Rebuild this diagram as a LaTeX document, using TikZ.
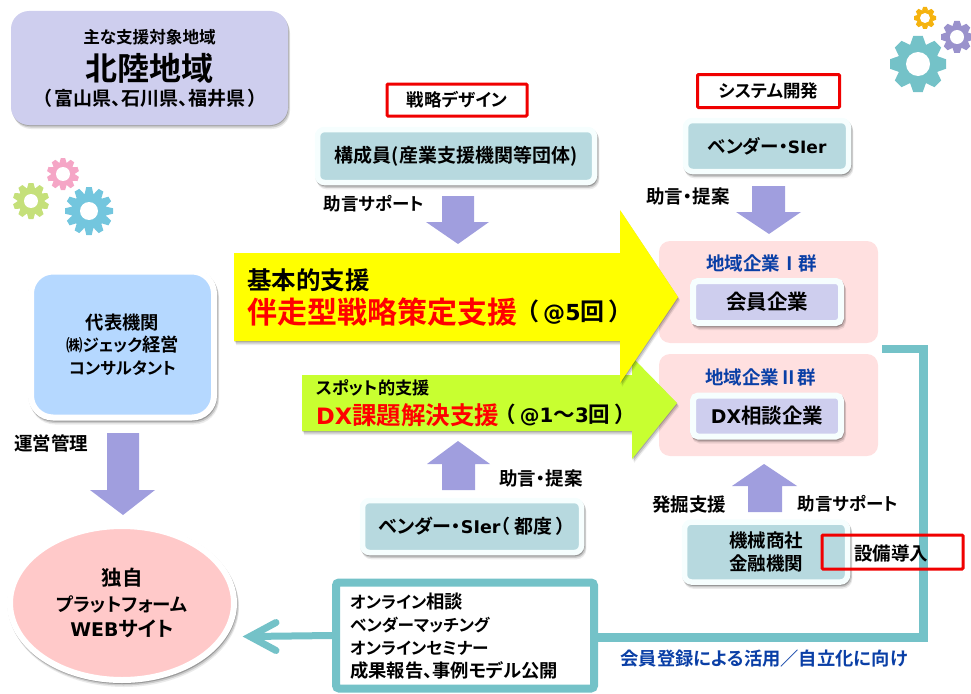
\documentclass[tikz,border=0pt]{standalone}
\usepackage{fontspec}
\setmainfont{Noto Sans CJK JP}[BoldFont={Noto Sans CJK JP Bold},RawFeature={+palt}]
\newfontfamily\lat{DejaVu Sans}[BoldFont={DejaVu Sans Bold},Scale=0.92]
\usetikzlibrary{shapes.geometric,shadows}
\definecolor{lav}{HTML}{CECEEE}
\definecolor{tealbox}{HTML}{B7D9DF}
\definecolor{rim}{HTML}{F6FEFE}
\definecolor{arr}{HTML}{A09EDE}
\definecolor{teal}{HTML}{74C2C8}
\definecolor{pinkbox}{HTML}{FFE0E0}
\definecolor{blueT}{HTML}{0A3FA6}
\definecolor{lime}{HTML}{C8FF30}
\definecolor{yelA}{HTML}{FFFF00}
\definecolor{redT}{HTML}{FF0000}
\definecolor{redB}{HTML}{F00000}
\definecolor{repblue}{HTML}{B5D8FF}
\definecolor{webpink}{HTML}{FFC9C9}
\definecolor{gGold}{HTML}{F5B30F}
\definecolor{gPurple}{HTML}{9A92CC}
\definecolor{gPink}{HTML}{F5A6C6}
\definecolor{gGreen}{HTML}{C5E07A}
\definecolor{gBlue}{HTML}{73C6DE}
\newcommand{\fsz}[1]{\fontsize{#1}{#1}\selectfont}
\newcommand{\fszl}[2]{\fontsize{#1}{#2}\selectfont}
\newcommand{\mygear}[6]{%
  \begin{scope}[shift={(#1,#2)}]
    \fill[#6] (0,0) circle ({0.74*#3});
    \foreach \a in {1,...,#5}{
      \fill[#6,rotate={\a*360/#5}] ({-0.29*#3*8/#5},{0.66*#3}) -- ({-0.17*#3*8/#5},#3) -- ({0.17*#3*8/#5},#3) -- ({0.29*#3*8/#5},{0.66*#3}) -- cycle;
    }
    \fill[white] (0,0) circle (#4);
  \end{scope}}
\tikzset{
  x=1pt,y=-1pt,
  softshadow/.style={
    drop shadow={shadow xshift=0.5pt,shadow yshift=-1pt,opacity=.18,fill=black},
    drop shadow={shadow xshift=1.5pt,shadow yshift=-2.5pt,opacity=.14,fill=black},
    drop shadow={shadow xshift=2pt,shadow yshift=-4pt,opacity=.08,fill=black}},
  rimshadow/.style={
    drop shadow={shadow xshift=0.5pt,shadow yshift=-1pt,opacity=.18,fill=black,draw=black},
    drop shadow={shadow xshift=1.5pt,shadow yshift=-2.5pt,opacity=.14,fill=black,draw=black},
    drop shadow={shadow xshift=2pt,shadow yshift=-4pt,opacity=.08,fill=black,draw=black}},
  tbox/.style={rectangle,rounded corners=7pt,draw=rim,line width=5.5pt,fill=tealbox,rimshadow,inner sep=0pt,align=center,font=\bfseries\fsz{18.5}},
  lbox/.style={rectangle,rounded corners=5pt,draw=rim,line width=6pt,fill=lav,rimshadow,inner sep=0pt,align=center,font=\bfseries\fsz{20.5}},
  redbox/.style={rectangle,draw=redB,line width=3pt,rounded corners=1pt,inner sep=0pt,font=\bfseries\fsz{17.5}},
  group/.style={rectangle,rounded corners=11pt,fill=pinkbox,inner sep=0pt},
  lab/.style={inner sep=0pt,font=\bfseries\fsz{18.5}},
  blockarr/.style={fill=arr},
  tealline/.style={draw=teal,line width=8.5pt,line join=miter}
}
\begin{document}
\begin{tikzpicture}
\useasboundingbox (0,0) rectangle (971,693);
% gears
\mygear{918}{64}{28}{12}{8}{teal}
\mygear{925}{18}{11}{5}{8}{gGold}
\mygear{957}{37}{16}{7}{8}{gPurple}
\mygear{63}{174}{16}{7}{10}{gPink}
\mygear{31}{201}{18}{7}{10}{gGreen}
\mygear{89}{211}{24}{9}{12}{gBlue}
% region box
\node[rectangle,rounded corners=18pt,fill=lav,softshadow,minimum width=277pt,minimum height=114pt,inner sep=0pt] (region) at (149.5,68) {};
\node[lab,font=\bfseries\fsz{16.6}] (regionA) at (149.5,37) {主な支援対象地域};
\node[lab,font=\bfseries\fsz{32}] (regionB) at (149.5,68) {北陸地域};
\node[lab,font=\bfseries\fsz{19}] (regionC) at (150,98) {（\kern3pt 富山県、石川県、福井県\kern3pt）};
% top boxes
\node[redbox,minimum width=140pt,minimum height=32pt] (senryaku) at (457,100) {戦略デザイン};
\node[redbox,minimum width=142pt,minimum height=33pt] (system) at (768.5,91) {システム開発};
\node[tbox,minimum width=277pt,minimum height=53pt,font=\bfseries\fsz{19}] (kosei) at (456,156) {構成員(産業支援機関等団体)};
\node[tbox,minimum width=163pt,minimum height=51pt] (vendorA) at (767,146) {ベンダー・{\lat SIer}};
\node[lab,font=\bfseries\fsz{17.5}] (jogenA) at (374,204) {助言サポート};
\node[lab] (jogenB) at (688,196) {助言・提案};
% block arrows down
\path[blockarr] (442,196) -- (474,196) -- (474,222) -- (489,222) -- (458,244) -- (426,222) -- (442,222) -- cycle;
\path[blockarr] (752,186) -- (785,186) -- (785,212) -- (801,212) -- (769,234) -- (736,212) -- (752,212) -- cycle;
% groups
\node[group,minimum width=219pt,minimum height=102pt] (g1) at (768.5,292) {};
\node[group,minimum width=219pt,minimum height=102pt] (g2) at (768.5,405) {};
\node[lab,text=blueT] (g1t) at (761.5,263) {地域企業Ⅰ群};
\node[lab,text=blueT] (g2t) at (760.5,377) {地域企業Ⅱ群};
\node[lbox,minimum width=148pt,minimum height=42pt] (kaiin) at (767,302) {会員企業};
\node[lbox,minimum width=148pt,minimum height=41pt] (dx) at (767,416) {{\lat DX}相談企業};
% big arrows
\path[fill=lime,softshadow] (302,375) -- (632,375) -- (632,357) -- (677,403) -- (632,459) -- (632,431) -- (302,431) -- cycle;
\path[fill=yelA,softshadow] (234,253) -- (620,253) -- (620,210) -- (678,297) -- (620,383) -- (620,341) -- (234,341) -- cycle;
\node[lab,anchor=west,font=\bfseries\fsz{24.5}] (kihon) at (247,280) {基本的支援};
\node[lab,anchor=west,font=\bfseries\fsz{30},text=redT] (banso) at (247,312) {伴走型戦略策定支援};
\node[lab,anchor=west,font=\bfseries\fsz{24}] (banso5) at (526,312) {（\kern5pt{\lat @5}回\kern5pt）};
\node[lab,anchor=west,font=\bfseries\fsz{17.2}] (spot) at (316,388) {スポット的支援};
\node[lab,anchor=west,font=\bfseries\fsz{24.5},text=redT] (dxk) at (316,415) {{\lat DX}課題解決支援};
\node[lab,anchor=west,font=\bfseries\fsz{21.5}] (dxk3) at (504,415) {（\kern5pt{\lat @1}～{\lat 3}回\kern5pt）};
% left
\node[rectangle,rounded corners=22pt,draw=white,line width=6pt,fill=repblue,rimshadow,minimum width=183pt,minimum height=146pt,inner sep=0pt,align=center,font={\bfseries\fszl{18.3}{22.3}}] (rep) at (122.5,344.5) {代表機関\\{\fontsize{16.5}{22.3}\selectfont ㈱ジェック}経営\\{\fontsize{16.5}{22.3}\selectfont コンサルタント}};
\node[lab] (unei) at (51,443) {運営管理};
\path[blockarr] (107,433) -- (139,433) -- (139,490) -- (155,490) -- (123,515) -- (90,490) -- (107,490) -- cycle;
\node[ellipse,draw=white,line width=6pt,fill=webpink,rimshadow,minimum width=224pt,minimum height=154pt,inner sep=0pt,align=center,font={\bfseries\fszl{20.5}{25.5}}] (web) at (122,603) {独自\\{\fontsize{18.5}{25.5}\selectfont プラットフォーム}\\{\lat WEB}サイト};
% bottom middle
\path[blockarr] (442,490) -- (475,490) -- (475,464) -- (490,464) -- (458,441) -- (427,464) -- (442,464) -- cycle;
\node[lab] (jogenC) at (541,478) {助言・提案};
\node[tbox,minimum width=219pt,minimum height=52pt,font=\bfseries\fsz{19}] (vendorB) at (472,526.5) {ベンダー・{\lat SIer}（\kern4pt 都度\kern4pt）};
% bottom right
\path[blockarr] (748,512) -- (782,512) -- (782,486) -- (797,486) -- (764,464) -- (732,486) -- (748,486) -- cycle;
\node[lab] (hakkutsu) at (689,504) {発掘支援};
\node[lab,font=\bfseries\fsz{17.5}] (jogenD) at (848,504) {助言サポート};
% teal connector
\coordinate (tstart) at (882,349);
\coordinate (tcorner) at (923.5,637.5);
\coordinate (tip) at (250,636.5);
\node[rectangle,rounded corners=3pt,draw=teal,line width=8pt,fill=white,minimum width=258pt,minimum height=106pt,inner sep=0pt] (frame) at (465,635.5) {};
\draw[tealline] (tstart) -| (tcorner) -- (frame.east |- tcorner);
\draw[draw=teal,line width=7pt] (frame.west) -- (tip);
\draw[draw=teal,line width=7pt,line join=miter,line cap=round] (tip) ++(26,-14) -- (tip) -- ++(26,14);
\node[lab,anchor=west,align=left,font={\bfseries\fszl{18.3}{22.8}}] (frameT) at (350,636) {{\fontsize{16.6}{22.8}\selectfont オンライン}相談\\{\fontsize{16.6}{22.8}\selectfont ベンダーマッチング}\\{\fontsize{16.6}{22.8}\selectfont オンラインセミナー}\\成果報告、事例モデル公開};
\node[lab,text=blueT,font=\bfseries\fsz{18.3}] (kaiinT) at (764,659) {会員登録による活用／自立化に向け};
% machinery
\node[tbox,minimum width=163pt,minimum height=60pt,font={\bfseries\fszl{18.5}{23}}] (kikai) at (766,552) {機械商社\\金融機関};
\node[redbox,minimum width=141pt,minimum height=34pt] (setsubi) at (892.5,552) {};
\node[lab] (setsubiT) at (891,553) {設備導入};
\end{tikzpicture}
\end{document}
